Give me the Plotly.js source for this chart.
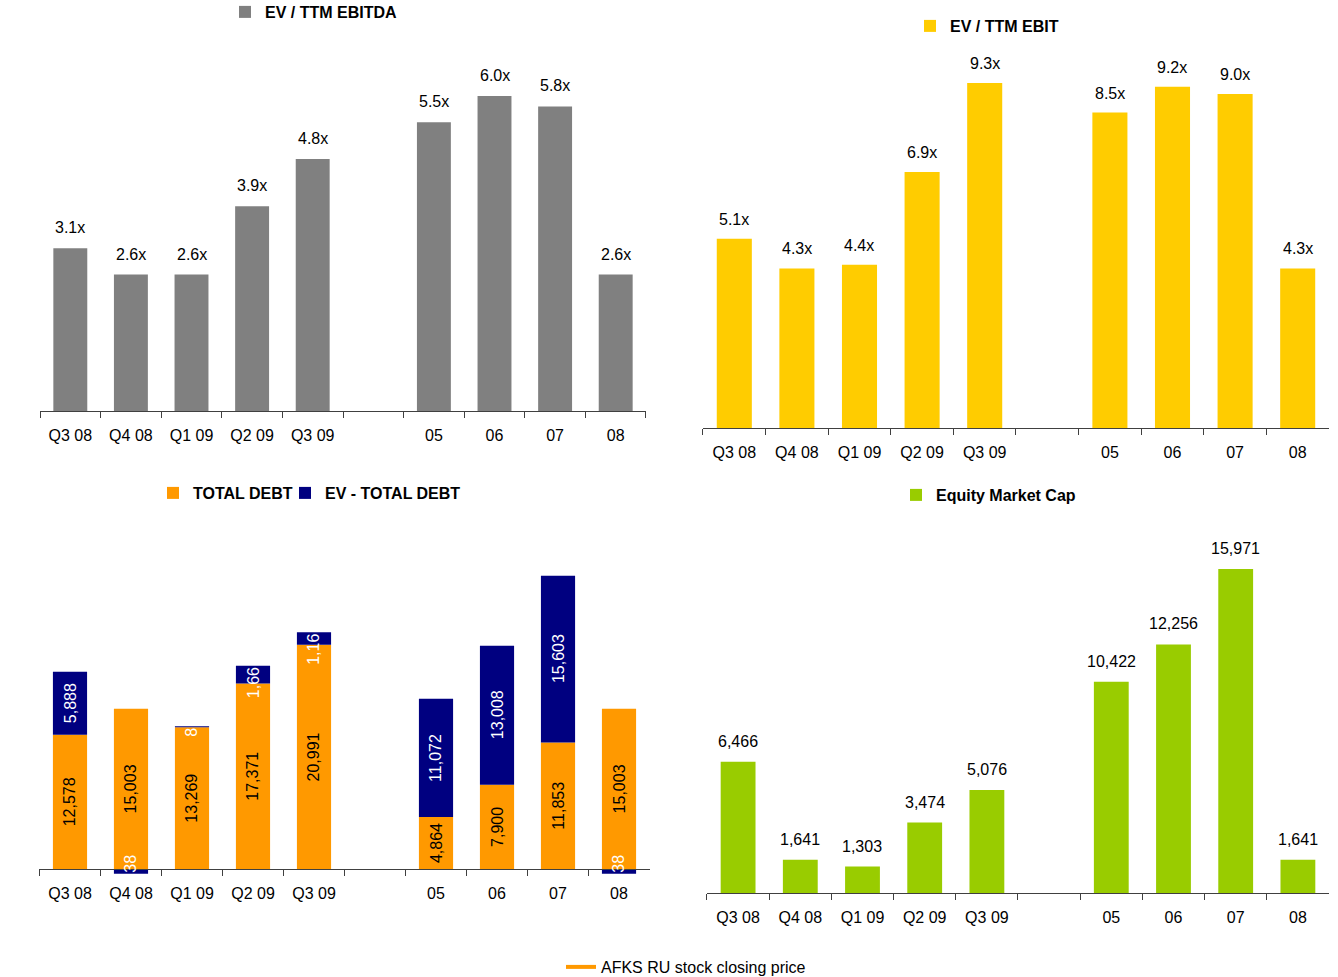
<!DOCTYPE html>
<html>
<head>
<meta charset="utf-8">
<script src="https://cdn.plot.ly/plotly-3.0.1.min.js"></script>
<style>html,body{margin:0;padding:0;background:#fff;}#chart{width:1338px;height:977px;}</style>
</head>
<body>
<div id="chart"></div>
<script>
// Categories (a blank slot separates quarters from years)
const categories = ["Q3 08", "Q4 08", "Q1 09", "Q2 09", "Q3 09", " ", "05", "06", "07", "08"];

// EV / TTM EBITDA (x)
const evEbitda = [3.1, 2.6, 2.6, 3.9, 4.8, null, 5.5, 6.0, 5.8, 2.6];
// EV / TTM EBIT (x)
const evEbit = [5.1, 4.3, 4.4, 6.9, 9.3, null, 8.5, 9.2, 9.0, 4.3];
// Total debt
const totalDebt = [12578, 15003, 13269, 17371, 20991, null, 4864, 7900, 11853, 15003];
// EV - total debt
const evMinusDebt = [5888, -438, 86, 1665, 1165, null, 11072, 13008, 15603, -438];
// Labels as printed on the EV - total debt segments
const evMinusDebtLabels = ["5,888", "38", "8", "1,66", "1,16", "", "11,072", "13,008", "15,603", "38"];
// Equity market cap
const marketCap = [6466, 1641, 1303, 3474, 5076, null, 10422, 12256, 15971, 1641];
// Stock price line (legend only, no points shown)
const stockPrice = [null, null, null, null, null, null, null, null, null, null];

const FONT = "Liberation Sans, Arial, sans-serif";
const fmtX = v => v == null ? "" : v.toFixed(1) + "x";
const fmtN = v => v == null ? "" : v.toLocaleString("en-US");

const traces = [
  {type: "bar", x: categories, y: evEbitda, xaxis: "x", yaxis: "y", name: "EV / TTM EBITDA",
   marker: {color: "#808080"}, legend: "legend"},
  {type: "bar", x: categories, y: evEbit, xaxis: "x2", yaxis: "y2", name: "EV / TTM EBIT",
   marker: {color: "#FFCC00"}, legend: "legend2"},
  {type: "bar", x: categories, y: totalDebt, xaxis: "x3", yaxis: "y3", name: "TOTAL DEBT",
   marker: {color: "#FF9900"}, text: totalDebt.map(fmtN), textposition: "inside", insidetextanchor: "middle",
   textangle: -90, constraintext: "none", textfont: {family: FONT, size: 16, color: "#000"}, legend: "legend3"},
  {type: "bar", x: categories, y: evMinusDebt, xaxis: "x3", yaxis: "y3", name: "EV - TOTAL DEBT",
   marker: {color: "#000080"}, legend: "legend6"},
  {type: "bar", x: categories, y: marketCap, xaxis: "x4", yaxis: "y4", name: "Equity Market Cap",
   marker: {color: "#99CC00"}, legend: "legend4"},
  {type: "scatter", mode: "lines", x: categories, y: stockPrice, xaxis: "x", yaxis: "y",
   name: "AFKS RU stock closing price", line: {color: "#FF9900", width: 4}, legend: "legend5", showlegend: true}
];

// value labels above bars, placed through the axes (x given as category index)
const annotations = [];
function topLabels(vals, fmt, xr, yr, shift) {
  vals.forEach((v, i) => {
    if (v == null) return;
    annotations.push({xref: xr, yref: yr, x: i, y: v, text: fmt(v), showarrow: false,
      yanchor: "bottom", yshift: shift, font: {family: FONT, size: 16, color: "#000"}});
  });
}
topLabels(evEbitda, fmtX, "x", "y", 10);
topLabels(evEbit, fmtX, "x2", "y2", 9);
topLabels(marketCap, fmtN, "x4", "y4", 10);
// labels on EV - total debt segments (small segments: label pinned at the outer end)
evMinusDebt.forEach((v, i) => {
  if (v == null) return;
  const base = totalDebt[i];
  let y, ya;
  if (v < 0) { y = v; ya = "bottom"; }
  else if (v < 3000) { y = base + v; ya = "top"; }
  else { y = base + v / 2; ya = "middle"; }
  annotations.push({xref: "x3", yref: "y3", x: i, y: y, text: evMinusDebtLabels[i],
    showarrow: false, textangle: -90, yanchor: ya, borderpad: 0,
    font: {family: FONT, size: 16, color: "#fff"}});
});

function xa(domain, extra) {
  return Object.assign({
    domain: domain, type: "category", showline: true, linecolor: "#404040", linewidth: 1,
    ticks: "outside", tickson: "boundaries", ticklen: 6, tickcolor: "#404040", tickwidth: 1,
    showgrid: false, zeroline: false, fixedrange: true, ticklabelstandoff: 10,
    tickfont: {family: FONT, size: 16, color: "#000"}
  }, extra || {});
}
function ya(domain, range, extra) {
  return Object.assign({
    domain: domain, range: range, visible: false, showgrid: false, zeroline: false, fixedrange: true
  }, extra || {});
}
function leg(x, y, extra) {
  return Object.assign({
    x: x, y: y, xanchor: "left", yanchor: "middle", orientation: "h",
    font: {family: FONT, size: 16, color: "#000", weight: "bold"},
    bgcolor: "rgba(0,0,0,0)", borderwidth: 0, itemclick: false, itemdoubleclick: false
  }, extra || {});
}

const layout = {
  width: 1338, height: 977,
  margin: {l: 0, r: 0, t: 0, b: 0, autoexpand: false},
  paper_bgcolor: "#fff", plot_bgcolor: "#fff",
  barmode: "relative", bargap: 0.44,
  uniformtext: {minsize: 16, mode: "show"},
  font: {family: FONT, size: 16, color: "#000"},
  xaxis: xa([0.02990, 0.48281], {anchor: "y"}),
  yaxis: ya([0.5793, 0.9555], [0, 7], {anchor: "x"}),
  xaxis2: xa([0.52541, 0.99327], {anchor: "y2"}),
  yaxis2: ya([0.5619, 0.9607], [0, 10.5], {anchor: "x2"}),
  xaxis3: xa([0.02952, 0.48543], {anchor: "free", position: 1 - 869 / 977}),
  yaxis3: ya([0.09959, 0.46039], [-1000, 32000], {anchor: "x3"}),
  xaxis4: xa([0.52840, 0.99327], {anchor: "y4"}),
  yaxis4: ya([0.0860, 0.4596], [0, 18000], {anchor: "x4"}),
  legend: leg(0.16816, 0.98772),
  legend2: leg(0.68012, 0.97339),
  legend3: leg(0.11435, 0.49539),
  legend6: leg(0.21300, 0.49539),
  legend4: leg(0.66966, 0.49335),
  legend5: leg(0.41928, 0.01024, {font: {family: FONT, size: 16, color: "#000"}}),
  annotations: annotations,
  showlegend: true
};

Plotly.newPlot("chart", traces, layout, {displayModeBar: false, staticPlot: true});
</script>
</body>
</html>
